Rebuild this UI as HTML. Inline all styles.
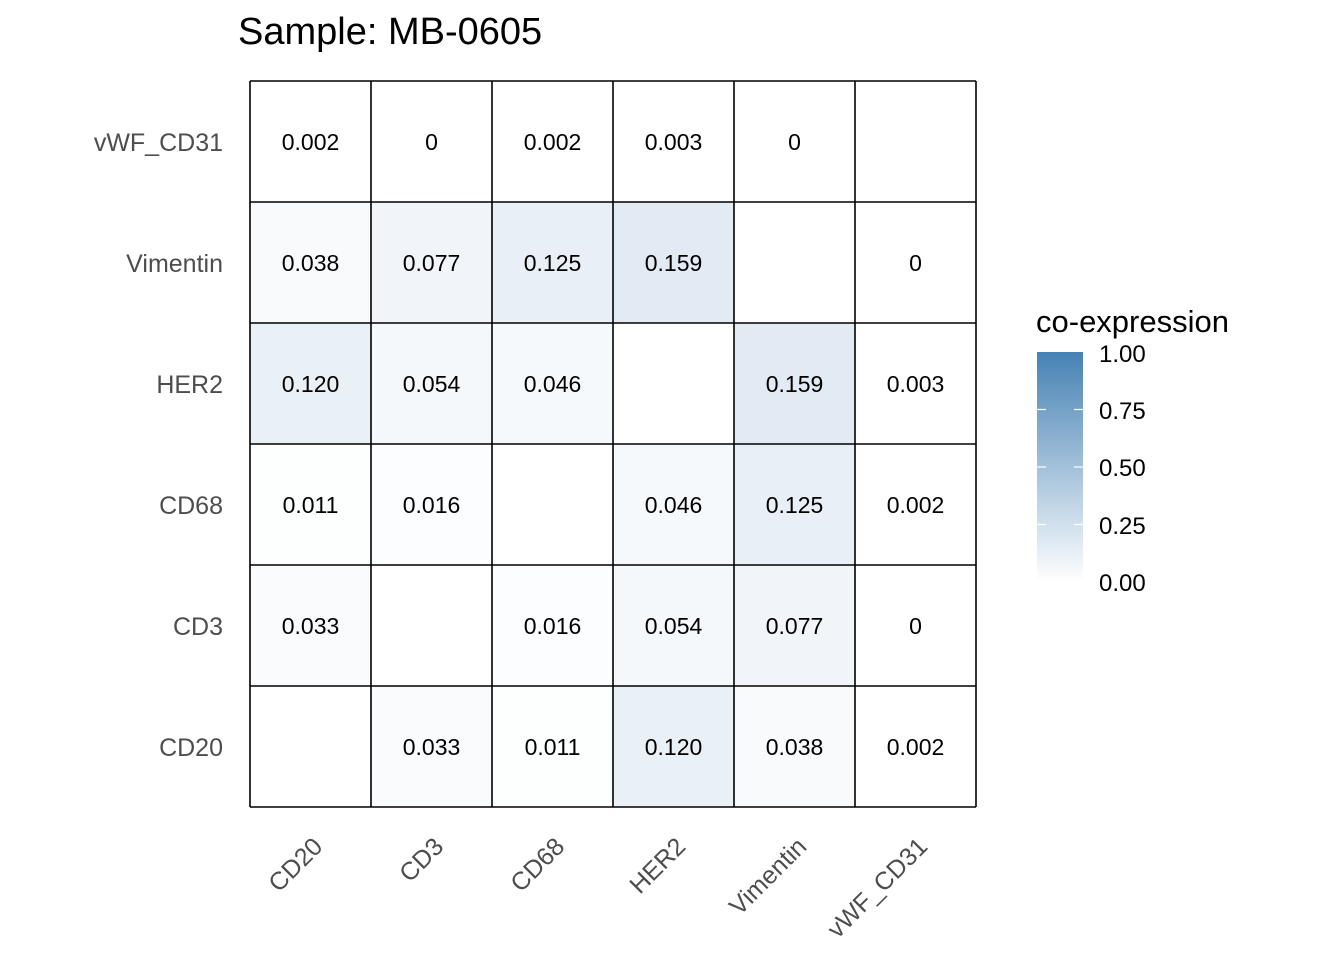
<!DOCTYPE html>
<html><head><meta charset="utf-8"><style>body{margin:0;background:#fff}svg{display:block}</style></head>
<body>
<svg width="1344" height="960" xmlns="http://www.w3.org/2000/svg" font-family="Liberation Sans, sans-serif">
<defs><linearGradient id="g" x1="0" y1="1" x2="0" y2="0"><stop offset="0" stop-color="#ffffff"/><stop offset="1" stop-color="#4682b4"/></linearGradient></defs>
<text x="238" y="44" font-size="38" fill="#000">Sample: MB-0605</text>
<g stroke="none">
<rect x="250" y="202" width="121" height="121" fill="#f8fafc"/>
<rect x="371" y="202" width="121" height="121" fill="#f1f5f9"/>
<rect x="492" y="202" width="121" height="121" fill="#e8eff6"/>
<rect x="613" y="202" width="121" height="121" fill="#e2ebf3"/>
<rect x="250" y="323" width="121" height="121" fill="#e9f0f6"/>
<rect x="371" y="323" width="121" height="121" fill="#f5f8fb"/>
<rect x="492" y="323" width="121" height="121" fill="#f6f9fc"/>
<rect x="734" y="323" width="121" height="121" fill="#e2ebf3"/>
<rect x="250" y="444" width="121" height="121" fill="#fdfefe"/>
<rect x="371" y="444" width="121" height="121" fill="#fcfdfe"/>
<rect x="613" y="444" width="121" height="121" fill="#f6f9fc"/>
<rect x="734" y="444" width="121" height="121" fill="#e8eff6"/>
<rect x="250" y="565" width="121" height="121" fill="#f9fbfd"/>
<rect x="492" y="565" width="121" height="121" fill="#fcfdfe"/>
<rect x="613" y="565" width="121" height="121" fill="#f5f8fb"/>
<rect x="734" y="565" width="121" height="121" fill="#f1f5f9"/>
<rect x="371" y="686" width="121" height="121" fill="#f9fbfd"/>
<rect x="492" y="686" width="121" height="121" fill="#fdfefe"/>
<rect x="613" y="686" width="121" height="121" fill="#e9f0f6"/>
<rect x="734" y="686" width="121" height="121" fill="#f8fafc"/>
</g>
<g stroke="#000" stroke-width="1.6">
<line x1="250" y1="81" x2="250" y2="807"/><line x1="371" y1="81" x2="371" y2="807"/><line x1="492" y1="81" x2="492" y2="807"/><line x1="613" y1="81" x2="613" y2="807"/><line x1="734" y1="81" x2="734" y2="807"/><line x1="855" y1="81" x2="855" y2="807"/><line x1="976" y1="81" x2="976" y2="807"/>
<line x1="250" y1="81" x2="976" y2="81"/><line x1="250" y1="202" x2="976" y2="202"/><line x1="250" y1="323" x2="976" y2="323"/><line x1="250" y1="444" x2="976" y2="444"/><line x1="250" y1="565" x2="976" y2="565"/><line x1="250" y1="686" x2="976" y2="686"/><line x1="250" y1="807" x2="976" y2="807"/>
</g>
<g font-size="23" fill="#000" text-anchor="middle">
<text x="310.5" y="150">0.002</text><text x="431.5" y="150">0</text><text x="552.5" y="150">0.002</text><text x="673.5" y="150">0.003</text><text x="794.5" y="150">0</text>
<text x="310.5" y="271">0.038</text><text x="431.5" y="271">0.077</text><text x="552.5" y="271">0.125</text><text x="673.5" y="271">0.159</text><text x="915.5" y="271">0</text>
<text x="310.5" y="392">0.120</text><text x="431.5" y="392">0.054</text><text x="552.5" y="392">0.046</text><text x="794.5" y="392">0.159</text><text x="915.5" y="392">0.003</text>
<text x="310.5" y="513">0.011</text><text x="431.5" y="513">0.016</text><text x="673.5" y="513">0.046</text><text x="794.5" y="513">0.125</text><text x="915.5" y="513">0.002</text>
<text x="310.5" y="634">0.033</text><text x="552.5" y="634">0.016</text><text x="673.5" y="634">0.054</text><text x="794.5" y="634">0.077</text><text x="915.5" y="634">0</text>
<text x="431.5" y="755">0.033</text><text x="552.5" y="755">0.011</text><text x="673.5" y="755">0.120</text><text x="794.5" y="755">0.038</text><text x="915.5" y="755">0.002</text>
</g>
<g font-size="25" fill="#4d4d4d" text-anchor="end">
<text x="223" y="151">vWF_CD31</text><text x="223" y="272">Vimentin</text><text x="223" y="393">HER2</text><text x="223" y="514">CD68</text><text x="223" y="635">CD3</text><text x="223" y="756">CD20</text>
</g>
<g font-size="25" fill="#4d4d4d" text-anchor="end">
<text transform="translate(324,848) rotate(-45)">CD20</text>
<text transform="translate(445,848) rotate(-45)">CD3</text>
<text transform="translate(566,848) rotate(-45)">CD68</text>
<text transform="translate(687,848) rotate(-45)">HER2</text>
<text transform="translate(808,848) rotate(-45)">Vimentin</text>
<text transform="translate(929,848) rotate(-45)">vWF_CD31</text>
</g>
<text x="1036" y="332" font-size="31" fill="#000">co-expression</text>
<rect x="1037" y="352" width="46" height="230" fill="url(#g)"/>
<g stroke="#fff" stroke-width="1.2">
<line x1="1037" y1="409.5" x2="1046" y2="409.5"/><line x1="1074" y1="409.5" x2="1083" y2="409.5"/>
<line x1="1037" y1="467" x2="1046" y2="467"/><line x1="1074" y1="467" x2="1083" y2="467"/>
<line x1="1037" y1="524.5" x2="1046" y2="524.5"/><line x1="1074" y1="524.5" x2="1083" y2="524.5"/>
</g>
<g font-size="24" fill="#000">
<text x="1099" y="362">1.00</text><text x="1099" y="419">0.75</text><text x="1099" y="476">0.50</text><text x="1099" y="534">0.25</text><text x="1099" y="591">0.00</text>
</g>
</svg>
</body></html>
